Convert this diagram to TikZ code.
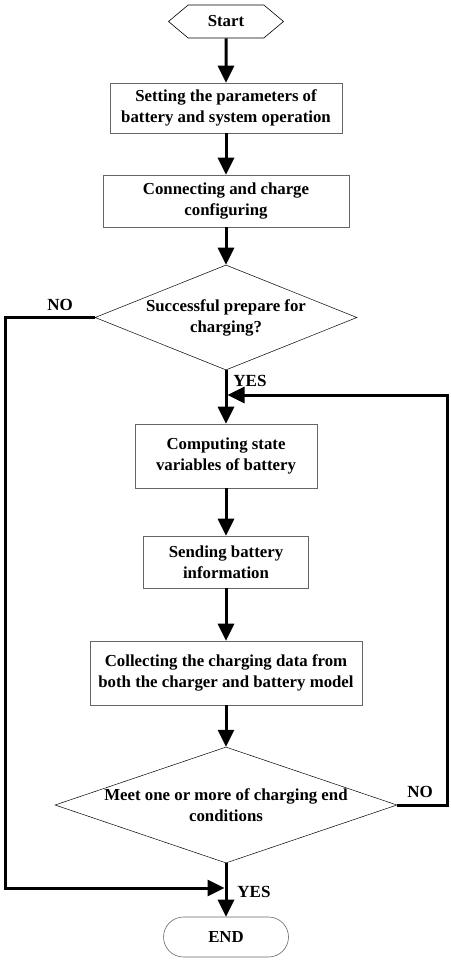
\documentclass[tikz,border=0pt]{standalone}
\usepackage{fontspec}
\setmainfont{Liberation Serif}
\usetikzlibrary{shapes.geometric,shapes.symbols,shapes.misc,arrows.meta}
\begin{document}
\begin{tikzpicture}[x=1pt,y=-1pt,
  every node/.style={font=\bfseries\fontsize{16.8}{21}\selectfont, align=center, inner sep=0pt},
  procbox/.style={draw=black!60, line width=0.6pt, rectangle},
  decbox/.style={draw=black, line width=0.5pt, diamond},
  flow/.style={line width=3pt, -{Triangle[width=16pt,length=17pt]}},
  lbl/.style={font=\bfseries\fontsize{17}{18}\selectfont}
]
\useasboundingbox (0,0) rectangle (450,960);
\node[draw, line width=0.6pt, shape=signal, signal to=east and west, signal pointer angle=80,
      minimum width=115pt, minimum height=33pt] (start) at (226,21.5) {Start};
\node[procbox, minimum width=232pt, minimum height=50pt] (b1) at (226,108)
  {Setting the parameters of\\battery and system operation};
\node[procbox, minimum width=246pt, minimum height=52pt] (b2) at (226,201)
  {Connecting and charge\\configuring};
\node[decbox, minimum width=262pt, minimum height=105pt,
      label={center:{Successful prepare for\\charging?}}] (d1) at (226,317.5) {};
\node[procbox, minimum width=182pt, minimum height=64pt] (b3) at (226,456)
  {Computing state\\variables of battery};
\node[procbox, minimum width=165pt, minimum height=52pt] (b4) at (226,562)
  {Sending battery\\information};
\node[procbox, minimum width=272pt, minimum height=64pt] (b5) at (226,673)
  {Collecting the charging data from\\both the charger and battery model};
\node[decbox, minimum width=342pt, minimum height=116pt,
      label={center:{Meet one or more of charging end\\conditions}}] (d2) at (226,805) {};
\node[draw=black!60, line width=0.6pt, rounded rectangle, minimum width=125pt,
      minimum height=40pt] (endn) at (226,937) {END};

\coordinate (loopjoin) at (227.5,395);
\coordinate (yesjoin) at (224.5,888);

\draw[flow] (start) -- (b1);
\draw[flow] (b1) -- (b2);
\draw[flow] (b2) -- (d1);
\draw[flow] (d1) -- (b3);
\draw[flow] (b3) -- (b4);
\draw[flow] (b4) -- (b5);
\draw[flow] (b5) -- (d2);
\draw[flow] (d2) -- (endn);
\draw[flow] (d1.west) -- (5,317.5) -- (5,888) -- (yesjoin);
\draw[flow] (d2.east) -- (447,805) -- (447,395) -- (loopjoin);

\node[lbl] (no1) at (60,305) {NO};
\node[lbl] (yes1) at (250,381) {YES};
\node[lbl] (no2) at (420,792) {NO};
\node[lbl] (yes2) at (254,892) {YES};
\end{tikzpicture}
\end{document}
